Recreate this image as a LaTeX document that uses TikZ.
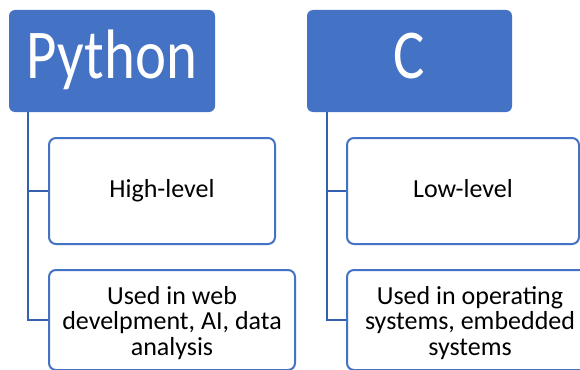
\documentclass[tikz,border=0pt]{standalone}
\usepackage{fontspec}
\setmainfont{Carlito}
\newfontfamily\headfont[FakeStretch=0.84]{Carlito}
\definecolor{accent}{HTML}{4472C4}
\definecolor{connblue}{HTML}{3560B0}
\newcommand{\toprule}{\rule{0pt}{24pt}}
\begin{document}
\begin{tikzpicture}[x=1pt,y=-1pt,
  headbox/.style={draw=none, fill=accent, rounded corners=6pt, inner sep=0pt,
    text=white, font=\headfont\fontsize{70}{70}\selectfont,
    text height=48pt, text depth=14pt},
  itembox/.style={draw=accent, line width=2pt, fill=white, rounded corners=7pt,
    inner sep=0pt, align=center, text=black,
    font=\fontsize{26}{25.5}\selectfont},
  single/.style={text height=18pt, text depth=5.2pt},
  conn/.style={draw=connblue, line width=2.4pt}]
\useasboundingbox (0,0) rectangle (580,369);
\clip (0,0) rectangle (580,369);
\fill[white] (0,0) rectangle (580,369);
% Python column
\node[headbox, minimum width=206pt, minimum height=102pt] (py) at (112,61) {Python};
\node[itembox, single, minimum width=226pt, minimum height=106pt] (p1) at (162,191) {High-level};
\node[itembox, minimum width=246pt, minimum height=100pt] (p2) at (172,320)
  {\toprule Used in web\\ develpment, AI, data\\ analysis};
\coordinate (pv) at ([xshift=19pt]py.south west);
\draw[conn] (pv) |- (p2.west);
\draw[conn] (pv) |- (p1.west);
% C column
\node[headbox, minimum width=205pt, minimum height=102pt] (c) at (409.5,61) {C};
\node[itembox, single, minimum width=232pt, minimum height=106pt] (c1) at (463,191) {Low-level};
\node[itembox, minimum width=246pt, minimum height=100pt] (c2) at (470,320)
  {\toprule Used in operating\\ systems, embedded\\ systems};
\coordinate (cv) at ([xshift=20pt]c.south west);
\draw[conn] (cv) |- (c2.west);
\draw[conn] (cv) |- (c1.west);
\end{tikzpicture}
\end{document}
